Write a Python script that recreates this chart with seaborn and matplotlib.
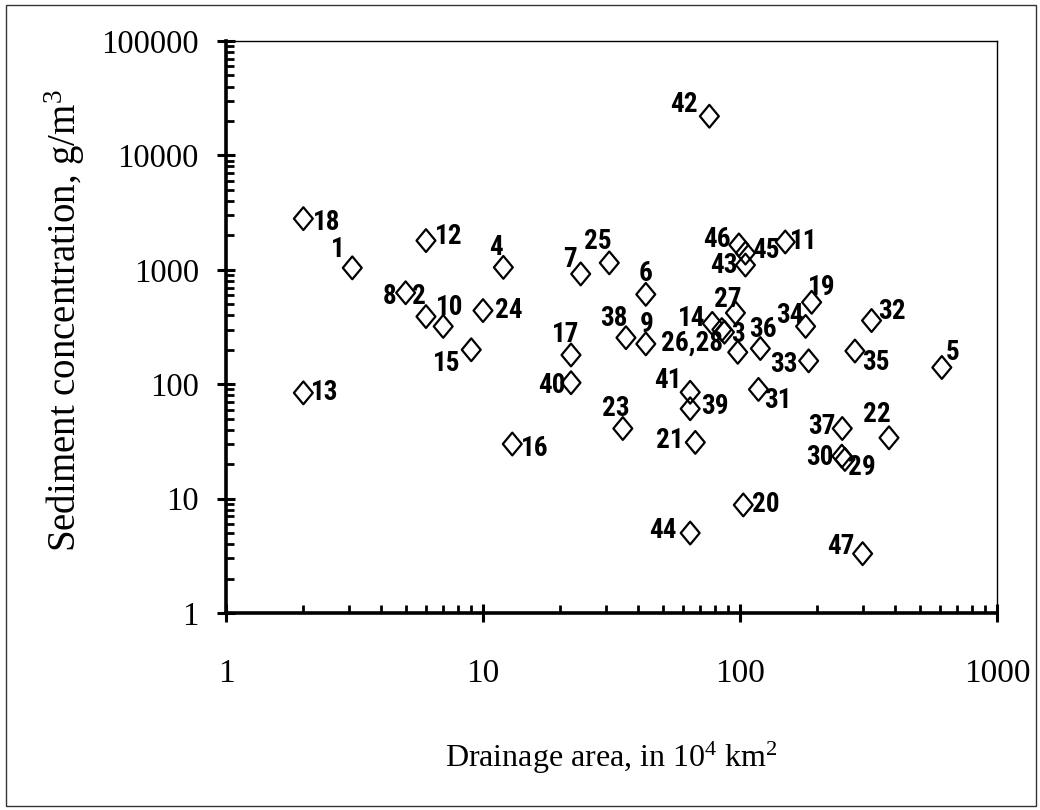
import numpy as np
import matplotlib
matplotlib.use("Agg")
import matplotlib.pyplot as plt
import seaborn as sns
import pandas as pd
from matplotlib.path import Path
from matplotlib.markers import MarkerStyle
from matplotlib.patches import Rectangle
from matplotlib.ticker import LogLocator, FuncFormatter, NullFormatter

# ---------------- data ----------------
station_ids = list(range(1, 48))
point_labels = [str(i) for i in station_ids]
point_labels[25] = "26,28"   # station 26 shares its label with 28
point_labels[27] = ""
drainage_area = [3.1, 6.0, 98, 12, 610, 43, 24, 5.0, 43, 7.0,
                 150, 6.0, 2.0, 78, 9.0, 13, 22, 2.0, 190, 103,
                 67, 380, 35, 10, 31, 85, 96, 87, 256, 249,
                 118, 325, 185, 180, 280, 120, 250, 36, 64, 22,
                 64, 76, 105, 64, 105, 99, 300]
sediment_conc = [1040, 390, 190, 1050, 140, 610, 920, 630, 225, 320,
                 1750, 1800, 84, 340, 200, 30, 180, 2800, 520, 8.8,
                 31, 34, 41, 440, 1150, 300, 420, 285, 22, 23.5,
                 90, 360, 160, 320, 195, 205, 41, 255, 61, 103,
                 85, 22000, 1100, 5.0, 1400, 1650, 3.3]
x_ticks = [1, 10, 100, 1000]
y_ticks = [1, 10, 100, 1000, 10000, 100000]
x_title = "Drainage area, in 10$^4$ km$^2$"
y_title = "Sediment concentration, g/m$^3$"

# label placement (offset in pixels from the marker, style only)
label_offsets = {
    "1": (-14, 18), "2": (-7, 20), "3": (0, 18), "4": (-7, 20), "5": (11, 15),
    "6": (0, 21), "7": (-11, 14), "8": (-16, -4), "9": (1, 19), "10": (6, 19),
    "11": (18, 0), "12": (23, 4), "13": (21, 0), "14": (-21, 5), "15": (-25, -14),
    "16": (22, -4), "17": (-5, 20), "18": (23, -4), "19": (10, 15), "20": (22, 0),
    "21": (-25, 2), "22": (-12, 23), "23": (-7, 20), "24": (26, 0), "25": (-11, 21),
    "26,28": (-30, -14), "27": (-8, 13), "29": (17, -8), "30": (-22, -1),
    "31": (19, -11), "32": (20, 9), "33": (-25, -4), "34": (-16, 11), "35": (21, -11),
    "36": (3, 19), "37": (-20, 2), "38": (-12, 19), "39": (25, 2), "40": (-19, -3),
    "41": (-22, 12), "42": (-25, 12), "43": (-22, 0), "44": (-27, 3), "45": (20, 3),
    "46": (-22, 5), "47": (-22, 7),
}

df = pd.DataFrame({"area": drainage_area, "conc": sediment_conc, "label": point_labels})

sns.set_theme(style="white")
serif = ["Liberation Serif", "DejaVu Serif"]
label_font = ["Liberation Sans Narrow", "Roboto Condensed", "Liberation Sans", "DejaVu Sans"]
plt.rcParams["font.family"] = serif
plt.rcParams["mathtext.fontset"] = "custom"
plt.rcParams["mathtext.rm"] = "Liberation Serif"
plt.rcParams["mathtext.it"] = "Liberation Serif"

fig = plt.figure(figsize=(10.4, 8.1), dpi=100)
fig.patch.set_facecolor("white")
ax = fig.add_axes([226 / 1040, 1 - 613 / 810, (997 - 226) / 1040, (613 - 41) / 810])

diamond = Path([(0, 1), (0.83, 0), (0, -1), (-0.83, 0), (0, 1)],
               [Path.MOVETO, Path.LINETO, Path.LINETO, Path.LINETO, Path.CLOSEPOLY])
sns.scatterplot(data=df, x="area", y="conc", ax=ax, marker=MarkerStyle(diamond),
                s=270, color="white", edgecolor="black", linewidth=1.6, zorder=3)
for coll in ax.collections:
    coll.set_facecolor("none")
    coll.set_edgecolor("black")

ax.set_xscale("log")
ax.set_yscale("log")
ax.set_xlim(x_ticks[0], x_ticks[-1])
ax.set_ylim(y_ticks[0], y_ticks[-1])
ax.set_xticks(x_ticks)
ax.set_yticks(y_ticks)
fmt = FuncFormatter(lambda v, _: f"{v:g}")
ax.xaxis.set_major_formatter(fmt)
ax.yaxis.set_major_formatter(fmt)
ax.xaxis.set_minor_locator(LogLocator(base=10, subs=np.arange(2, 10), numticks=20))
ax.yaxis.set_minor_locator(LogLocator(base=10, subs=np.arange(2, 10), numticks=20))
ax.xaxis.set_minor_formatter(NullFormatter())
ax.yaxis.set_minor_formatter(NullFormatter())

ax.tick_params(which="major", direction="inout", length=13, width=2.2, color="black",
               bottom=True, left=True, top=False, right=False)
ax.tick_params(which="minor", direction="in", length=5.5, width=2.0, color="black",
               bottom=True, left=True, top=False, right=False)
ax.tick_params(axis="y", which="major", pad=13, labelsize=23.5, labelcolor="black")
ax.tick_params(axis="x", which="major", pad=26, labelsize=24, labelcolor="black")
for lab in ax.get_xticklabels() + ax.get_yticklabels():
    lab.set_family(serif)

for side in ["left", "bottom"]:
    ax.spines[side].set_linewidth(2.6)
    ax.spines[side].set_color("black")
for side in ["top", "right"]:
    ax.spines[side].set_linewidth(1.0)
    ax.spines[side].set_color("black")
ax.grid(False)

ax.set_xlabel(x_title, fontsize=23, family=serif, color="black")
ax.set_ylabel(y_title, fontsize=28, family=serif, color="black")
ax.xaxis.set_label_coords(0.5, -0.222)
ax.yaxis.set_label_coords(-0.180, 0.512)

for xv, yv, lab in zip(df["area"], df["conc"], df["label"]):
    if not lab:
        continue
    dx, dy = label_offsets.get(lab, (18, 0))
    ax.annotate(lab, (xv, yv), xytext=(dx, dy), textcoords="offset pixels",
                ha="center", va="center", fontsize=19.5, fontweight="bold",
                family=label_font, color="black", zorder=4)

fig.patches.append(Rectangle((6 / 1040, 1 - 806 / 810), 1030 / 1040, 801 / 810,
                             transform=fig.transFigure, fill=False,
                             edgecolor="#333333", linewidth=1.0))

fig.savefig("out.png", dpi=100, facecolor="white")
